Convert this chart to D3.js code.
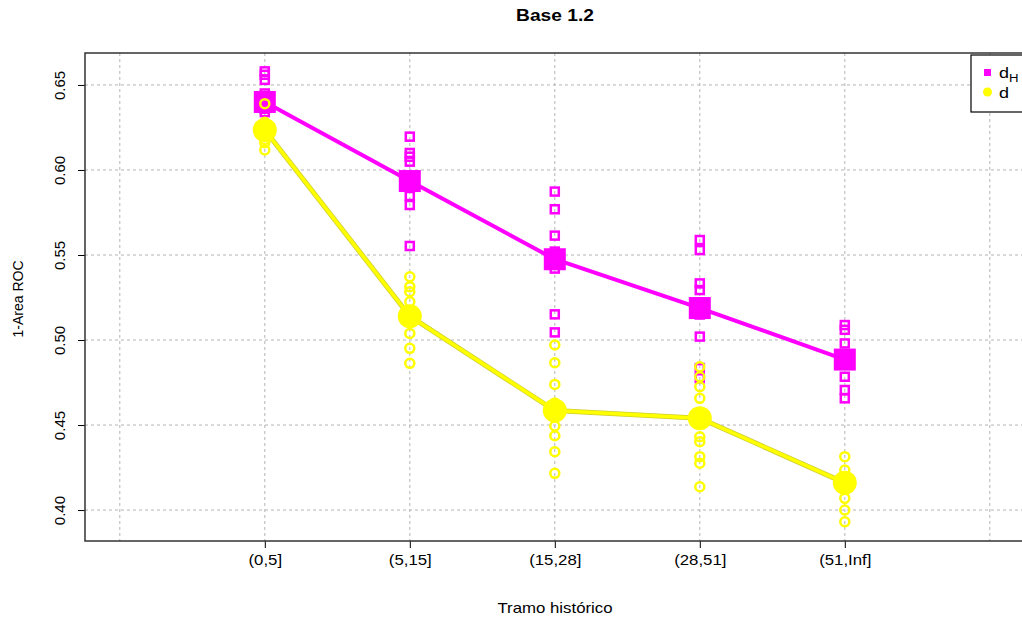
<!DOCTYPE html>
<html>
<head>
<meta charset="utf-8">
<script src="https://cdn.jsdelivr.net/npm/d3@7"></script>
<style>
  body { margin: 0; background: #fff; }
  svg { display: block; font-family: "Liberation Sans", Arial, sans-serif; }
</style>
</head>
<body>
<svg id="chart" width="1022" height="625"></svg>
<script>
// Categories of the history segment
const categories = ["(0,5]", "(5,15]", "(15,28]", "(28,51]", "(51,Inf]"];
const yTicks = [0.40, 0.45, 0.50, 0.55, 0.60, 0.65];

// Individual runs for d_H (one array per category)
const dHPoints = [
  [0.658, 0.656, 0.653, 0.645, 0.642, 0.638, 0.636, 0.634],
  [0.6196, 0.610, 0.6078, 0.6049, 0.596, 0.590, 0.5847, 0.5794, 0.5553],
  [0.5873, 0.5769, 0.5614, 0.552, 0.545, 0.542, 0.5151, 0.5045],
  [0.5588, 0.5529, 0.5333, 0.5294, 0.522, 0.515, 0.5020, 0.4835, 0.4775],
  [0.5088, 0.5060, 0.4980, 0.4784, 0.4706, 0.4657]
];
// Individual runs for d
const dPoints = [
  [0.639, 0.628, 0.625, 0.620, 0.618, 0.616, 0.6118],
  [0.5372, 0.5314, 0.5284, 0.5225, 0.5039, 0.4951, 0.4863],
  [0.4971, 0.4866, 0.4739, 0.463, 0.4494, 0.4437, 0.4343, 0.4216],
  [0.4843, 0.4784, 0.4725, 0.4657, 0.4431, 0.4402, 0.4314, 0.4275, 0.4137],
  [0.4314, 0.4235, 0.4190, 0.4069, 0.4000, 0.3931]
];
// Mean per category
const dHMean = [0.640, 0.5935, 0.5475, 0.5188, 0.4885];
const dMean = [0.6235, 0.5140, 0.4585, 0.4540, 0.4160];

const svg = d3.select("#chart");
const x = d3.scaleLinear().domain([-0.24, 6.24]).range([85, 1024.6]);
const y = d3.scaleLinear().domain([0.3818, 0.6688]).range([541, 53]);
const MAG = "#ff00ff", YEL = "#ffff00";
const SX = 1.2; // horizontal widening of horizontal text

// grid
const grid = svg.append("g").attr("stroke", "#b4b4b4").attr("stroke-width", 1).attr("stroke-dasharray", "3,3");
grid.selectAll("line.v").data(d3.range(0, 7)).join("line")
  .attr("x1", d => x(d)).attr("x2", d => x(d)).attr("y1", y.range()[1]).attr("y2", y.range()[0]);
grid.selectAll("line.h").data(yTicks).join("line")
  .attr("x1", x.range()[0]).attr("x2", x.range()[1]).attr("y1", d => y(d)).attr("y2", d => y(d));

// y axis
const yAxis = d3.axisLeft(y).tickValues(yTicks).tickFormat(d3.format(".2f")).tickSize(7);
const gy = svg.append("g").attr("transform", `translate(${x.range()[0]},0)`).call(yAxis);
gy.select(".domain").remove();
gy.selectAll(".tick line").attr("stroke", "#000");
gy.selectAll(".tick text")
  .attr("font-size", 15).attr("fill", "#000")
  .attr("transform", "rotate(-90)").attr("x", 0).attr("y", -20).attr("dy", 0)
  .attr("text-anchor", "middle");

// x axis
const xAxis = d3.axisBottom(x).tickValues([1, 2, 3, 4, 5]).tickFormat(d => categories[d - 1]).tickSize(7).tickPadding(7);
const gx = svg.append("g").attr("transform", `translate(0,${y.range()[0]})`).call(xAxis);
gx.select(".domain").remove();
gx.selectAll(".tick line").attr("stroke", "#000");
gx.selectAll(".tick text").attr("font-size", 14).attr("fill", "#000").attr("transform", `scale(${SX},1)`);

// plot frame
svg.append("rect").attr("x", x.range()[0]).attr("y", y.range()[1])
  .attr("width", x.range()[1] - x.range()[0]).attr("height", y.range()[0] - y.range()[1])
  .attr("fill", "none").attr("stroke", "#333").attr("stroke-width", 1.5);

// d_H series
const gH = svg.append("g");
gH.append("path").datum(dHMean)
  .attr("d", d3.line().x((d, i) => x(i + 1)).y(d => y(d)))
  .attr("fill", "none").attr("stroke", MAG).attr("stroke-width", 4);
dHPoints.forEach((arr, i) => {
  gH.selectAll(null).data(arr).join("rect")
    .attr("x", x(i + 1) - 4).attr("y", d => y(d) - 4).attr("width", 8).attr("height", 8)
    .attr("fill", "none").attr("stroke", MAG).attr("stroke-width", 2.5);
});
gH.selectAll(null).data(dHMean).join("rect")
  .attr("x", (d, i) => x(i + 1) - 11).attr("y", d => y(d) - 11).attr("width", 22).attr("height", 22)
  .attr("fill", MAG);

// d series
const gD = svg.append("g");
gD.append("path").datum(dMean)
  .attr("d", d3.line().x((d, i) => x(i + 1)).y(d => y(d)))
  .attr("fill", "none").attr("stroke", "#cfcf30").attr("stroke-width", 5);
gD.append("path").datum(dMean)
  .attr("d", d3.line().x((d, i) => x(i + 1)).y(d => y(d)))
  .attr("fill", "none").attr("stroke", YEL).attr("stroke-width", 3.5);
dPoints.forEach((arr, i) => {
  gD.selectAll(null).data(arr).join("circle")
    .attr("cx", x(i + 1)).attr("cy", d => y(d)).attr("r", 4.5)
    .attr("fill", "none").attr("stroke", YEL).attr("stroke-width", 2.5);
});
gD.selectAll(null).data(dMean).join("circle")
  .attr("cx", (d, i) => x(i + 1)).attr("cy", d => y(d)).attr("r", 12)
  .attr("fill", YEL);

// titles
svg.append("text").attr("transform", `translate(555,21) scale(${SX},1)`).attr("text-anchor", "middle")
  .attr("font-size", 16).attr("font-weight", "bold").text("Base 1.2");
svg.append("text").attr("transform", `translate(555,613) scale(${SX},1)`).attr("text-anchor", "middle")
  .attr("font-size", 14).text("Tramo histórico");
svg.append("text").attr("transform", "translate(23,299) rotate(-90)").attr("text-anchor", "middle")
  .attr("font-size", 14).text("1-Area ROC");

// legend
const lg = svg.append("g");
lg.append("rect").attr("x", 971).attr("y", 55).attr("width", 70).attr("height", 57)
  .attr("fill", "#fff").attr("stroke", "#000").attr("stroke-width", 1.2);
lg.append("rect").attr("x", 984).attr("y", 69).attr("width", 7).attr("height", 7).attr("fill", MAG);
lg.append("circle").attr("cx", 987.5).attr("cy", 92).attr("r", 4.5).attr("fill", YEL);
const t1 = lg.append("text").attr("transform", `translate(999,78) scale(${SX},1)`).attr("font-size", 15);
t1.append("tspan").text("d");
t1.append("tspan").attr("font-size", 11).attr("dy", 4).text("H");
lg.append("text").attr("transform", `translate(999,98) scale(${SX},1)`).attr("font-size", 15).text("d");
</script>
</body>
</html>
